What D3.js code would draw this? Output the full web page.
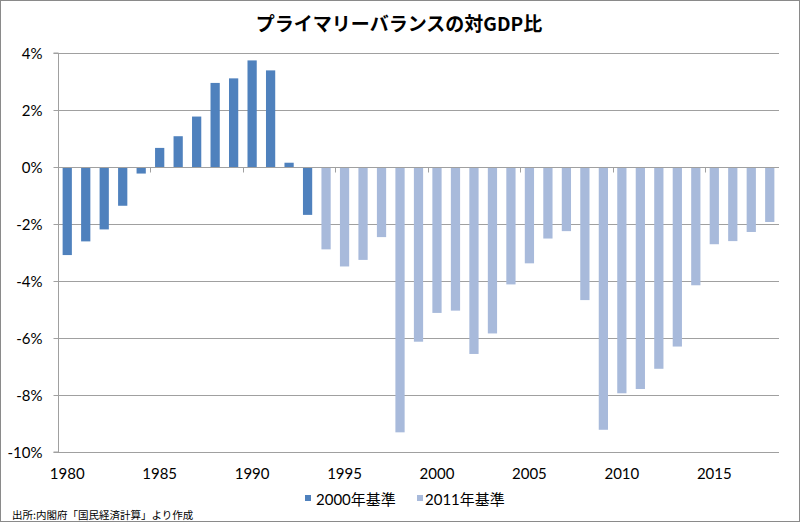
<!DOCTYPE html>
<html>
<head>
<meta charset="utf-8">
<script src="https://cdn.jsdelivr.net/npm/d3@7"></script>
<style>
  html, body { margin: 0; padding: 0; background: #fff; }
  svg { display: block; }
</style>
</head>
<body>
<svg id="chart" width="800" height="523"></svg>
<script>
// ---- data ----
const categories = [1980,1981,1982,1983,1984,1985,1986,1987,1988,1989,1990,1991,1992,1993,1994,1995,1996,1997,1998,1999,2000,2001,2002,2003,2004,2005,2006,2007,2008,2009,2010,2011,2012,2013,2014,2015,2016,2017,2018];
const years2000 = [1980,1981,1982,1983,1984,1985,1986,1987,1988,1989,1990,1991,1992,1993];
const values2000 = [-3.09,-2.61,-2.19,-1.36,-0.23,0.67,1.08,1.77,2.95,3.11,3.74,3.39,0.15,-1.68];
const years2011 = [1994,1995,1996,1997,1998,1999,2000,2001,2002,2003,2004,2005,2006,2007,2008,2009,2010,2011,2012,2013,2014,2015,2016,2017,2018];
const values2011 = [-2.89,-3.49,-3.26,-2.46,-9.31,-6.13,-5.12,-5.04,-6.56,-5.84,-4.12,-3.38,-2.51,-2.25,-4.67,-9.22,-7.94,-7.79,-7.08,-6.30,-4.15,-2.71,-2.60,-2.28,-1.93];
const seriesNames = ["2000年基準", "2011年基準"];
const xTickLabels = [1980,1985,1990,1995,2000,2005,2010,2015];
const yTicks = [4,2,0,-2,-4,-6,-8,-10];
const yTickLabels = ["4%","2%","0%","-2%","-4%","-6%","-8%","-10%"];
const titleText = "プライマリーバランスの対GDP比";
const sourceText = "出所:内閣府「国民経済計算」より作成";

// ---- layout ----
const svg = d3.select("#chart");
const L = 58, R = 779, T = 53, B = 452;
const colors = ["#4F81BD", "#A8BADB"];
const gridColor = "#A0A0A0";
const latin = "Lato, 'Noto Sans CJK JP', sans-serif";

const x = d3.scaleBand().domain(categories).range([L, R]).paddingInner(0.5).paddingOuter(0.25);
const y = d3.scaleLinear().domain([-10, 4]).range([B, T]);
const step = x.step();

// border
svg.append("rect").attr("x", 0.5).attr("y", 0.5).attr("width", 799).attr("height", 521)
  .attr("fill", "#fff").attr("stroke", "#8a8a8a").attr("stroke-width", 1);

// title
svg.append("text").attr("x", 399).attr("y", 31).attr("text-anchor", "middle")
  .attr("font-family", "'Noto Sans CJK JP', sans-serif").attr("font-weight", 700)
  .attr("font-size", 19).attr("fill", "#000").text(titleText);

// gridlines
svg.append("g").selectAll("line").data(yTicks).join("line")
  .attr("x1", L).attr("x2", R)
  .attr("y1", d => Math.round(y(d)) + 0.5).attr("y2", d => Math.round(y(d)) + 0.5)
  .attr("stroke", gridColor).attr("stroke-width", 1);

// y axis
const yAxis = d3.axisLeft(y).tickValues(yTicks).tickSize(5).tickPadding(11)
  .tickFormat((d, i) => yTickLabels[i]);
const gy = svg.append("g").attr("transform", `translate(${L + 0.5},0)`).call(yAxis);
gy.select(".domain").attr("stroke", gridColor).attr("d", `M-5,${T}H0V${B}H-5`);
gy.selectAll(".tick line").attr("stroke", gridColor);
gy.selectAll(".tick").attr("transform", d => `translate(0,${Math.round(y(d)) + 0.5})`);
gy.selectAll("text").attr("font-family", latin).attr("font-size", 15).attr("fill", "#000").attr("dy", "0.36em");

// bars
const bars = svg.append("g");
bars.selectAll("rect.s1").data(years2000.map((yr, i) => ({yr, v: values2000[i]}))).join("rect")
  .attr("class", "s1")
  .attr("x", d => x(d.yr)).attr("width", x.bandwidth())
  .attr("y", d => y(Math.max(0, d.v))).attr("height", d => Math.abs(y(d.v) - y(0)))
  .attr("fill", colors[0]);
bars.selectAll("rect.s2").data(years2011.map((yr, i) => ({yr, v: values2011[i]}))).join("rect")
  .attr("class", "s2")
  .attr("x", d => x(d.yr)).attr("width", x.bandwidth())
  .attr("y", d => y(Math.max(0, d.v))).attr("height", d => Math.abs(y(d.v) - y(0)))
  .attr("fill", colors[1]);

// category axis at zero (tick marks at category boundaries every 5)
const y0 = Math.round(y(0)) + 0.5;
const boundaryYears = xTickLabels;
const gx0 = svg.append("g");
gx0.append("line").attr("x1", L).attr("x2", R).attr("y1", y0).attr("y2", y0).attr("stroke", gridColor);
gx0.selectAll("line.tk").data(boundaryYears).join("line").attr("class", "tk")
  .attr("x1", d => Math.round(x(d) - (step - x.bandwidth()) / 2) + 0.5)
  .attr("x2", d => Math.round(x(d) - (step - x.bandwidth()) / 2) + 0.5)
  .attr("y1", y0).attr("y2", y0 + 5).attr("stroke", gridColor);

// category labels
const xAxis = d3.axisBottom(x).tickValues(xTickLabels).tickSize(0).tickPadding(0);
const gx = svg.append("g").attr("transform", `translate(0,${B})`).call(xAxis);
gx.select(".domain").remove();
gx.selectAll("text").attr("font-family", latin).attr("font-size", 15).attr("fill", "#000")
  .attr("dy", null).attr("y", 27);

// legend
const legend = svg.append("g");
const legendItems = [{sx: 305, tx: 316}, {sx: 417, tx: 425}];
seriesNames.forEach((name, i) => {
  legend.append("rect").attr("x", legendItems[i].sx).attr("y", 495).attr("width", 6).attr("height", 6).attr("fill", colors[i]);
  legend.append("text").attr("x", legendItems[i].tx).attr("y", 505)
    .attr("font-family", latin).attr("font-size", 15).attr("fill", "#000").text(name);
});

// source
svg.append("text").attr("x", 12).attr("y", 519)
  .attr("font-family", "'Noto Sans CJK JP', sans-serif").attr("font-size", 10.5).attr("fill", "#000")
  .text(sourceText);
</script>
</body>
</html>
